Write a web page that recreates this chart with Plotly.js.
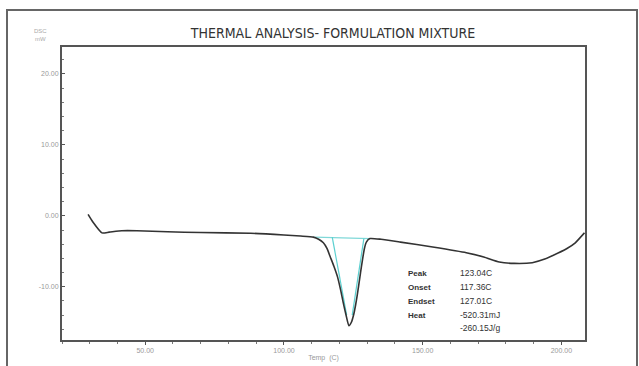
<!DOCTYPE html>
<html>
<head>
<meta charset="utf-8">
<script src="https://cdn.plot.ly/plotly-3.0.1.min.js"></script>
<style>html,body{margin:0;padding:0;background:#fff;}#chart{width:639px;height:366px;}</style>
</head>
<body>
<div id="chart"></div>
<script>
// DSC curve (Temp in C, heat flow in mW)
const temps = [29.4, 31, 34.4, 37, 41.6, 47, 58, 70, 88, 100, 106, 110.6, 112.5, 114.2, 115.5, 116.7, 118, 119.3, 120.4, 121.4, 122.5, 123.4, 124.3, 125.2, 125.8, 126.4, 126.9, 127.6, 128.3, 129, 129.7, 131, 135, 142, 153.6, 165.7, 172, 177.6, 183, 189.5, 194, 199, 202, 205, 208.3];
const heatFlow = [0.2, -0.8, -2.4, -2.3, -2.1, -2.1, -2.25, -2.35, -2.45, -2.7, -2.85, -3.0, -3.3, -3.8, -4.6, -5.8, -7.1, -8.6, -10.4, -12.3, -14.2, -15.5, -15.0, -13.8, -12.6, -11.2, -9.9, -8.0, -6.2, -4.6, -3.7, -3.2, -3.3, -3.7, -4.4, -5.2, -5.8, -6.5, -6.7, -6.6, -6.1, -5.2, -4.6, -3.8, -2.4];

// Integration baseline and tangent construction lines
const baseT = [111, 131];
const baseV = [-3.0, -3.2];
const leftTanT = [117.4, 122.6];
const leftTanV = [-3.0, -14.0];
const rightTanT = [128.8, 124.6];
const rightTanV = [-3.2, -14.0];

// Result labels
const resultLabels = ["Peak", "Onset", "Endset", "Heat", ""];
const resultValues = ["123.04C", "117.36C", "127.01C", "-520.31mJ", "-260.15J/g"];

const yTicks = [-10, 0, 10, 20];
const xTicks = [50, 100, 150, 200];

const traces = [
  {x: baseT, y: baseV, mode: 'lines', line: {color: '#7fd8d8', width: 1.2}, hoverinfo: 'skip'},
  {x: leftTanT, y: leftTanV, mode: 'lines', line: {color: '#5cd0d0', width: 1.2}, hoverinfo: 'skip'},
  {x: rightTanT, y: rightTanV, mode: 'lines', line: {color: '#5cd0d0', width: 1.2}, hoverinfo: 'skip'},
  {x: temps, y: heatFlow, mode: 'lines', line: {color: '#333', width: 1.6, shape: 'spline', smoothing: 0.5}}
];

const font = "'Liberation Sans', Arial, sans-serif";
const annotations = [];
const rowY = [273, 287, 301, 315, 328];
resultLabels.forEach((lab, i) => {
  if (lab) annotations.push({xref: 'paper', yref: 'paper', x: (406 - 62) / 523, y: (340 - rowY[i]) / 293, text: '<b>' + lab + '</b>', showarrow: false, xanchor: 'left', yanchor: 'middle', font: {family: font, size: 8, color: '#333'}});
  annotations.push({xref: 'paper', yref: 'paper', x: (458 - 62) / 523, y: (340 - rowY[i]) / 293, text: resultValues[i], showarrow: false, xanchor: 'left', yanchor: 'middle', font: {family: font, size: 8.5, color: '#333'}});
});
annotations.push({xref: 'paper', yref: 'paper', x: (40 - 62) / 523, y: (340 - 31) / 293, text: 'DSC', showarrow: false, xanchor: 'center', yanchor: 'middle', font: {family: font, size: 6, color: '#aaa'}});
annotations.push({xref: 'paper', yref: 'paper', x: (40 - 62) / 523, y: (340 - 39) / 293, text: 'mW', showarrow: false, xanchor: 'center', yanchor: 'middle', font: {family: font, size: 6, color: '#aaa'}});

const layout = {
  width: 639, height: 366,
  margin: {l: 62, r: 54, t: 47, b: 26},
  paper_bgcolor: '#fff', plot_bgcolor: '#fff',
  showlegend: false,
  title: {text: 'THERMAL ANALYSIS- FORMULATION MIXTURE', xref: 'container', yref: 'container', x: 333 / 639, y: 1 - 33 / 366, xanchor: 'center', yanchor: 'middle',
    font: {family: "'Liberation Sans Narrow', 'DejaVu Sans Condensed', 'Roboto Condensed', sans-serif", size: 14, color: '#333'}},
  xaxis: {range: [20, 208.5], showgrid: false, zeroline: false, showline: true, linecolor: '#555', linewidth: 2, mirror: true,
    tickvals: xTicks, ticktext: xTicks.map(v => v.toFixed(2)), ticks: 'outside', ticklen: 3, tickcolor: '#555',
    minor: {dtick: 10, ticks: 'outside', ticklen: 2, tickcolor: '#777'},
    tickfont: {family: font, size: 7, color: '#999'},
    title: {text: 'Temp  (C)', standoff: 2, font: {family: font, size: 7, color: '#999'}}},
  yaxis: {range: [-17.5, 23.8], showgrid: false, zeroline: false, showline: true, linecolor: '#555', linewidth: 2, mirror: true,
    tickvals: yTicks, ticktext: yTicks.map(v => v.toFixed(2)), ticks: 'inside', ticklen: 3, tickcolor: '#555',
    minor: {dtick: 2, ticks: 'inside', ticklen: 2, tickcolor: '#777'},
    tickfont: {family: font, size: 7, color: '#999'}},
  annotations: annotations,
  shapes: [
    {type: 'rect', xref: 'paper', yref: 'paper', x0: (7 - 62) / 523, x1: (637 - 62) / 523, y0: (340 - 372) / 293, y1: (340 - 10) / 293, line: {color: '#666', width: 2}}
  ]
};

Plotly.newPlot('chart', traces, layout, {staticPlot: true, displayModeBar: false});
</script>
</body>
</html>
